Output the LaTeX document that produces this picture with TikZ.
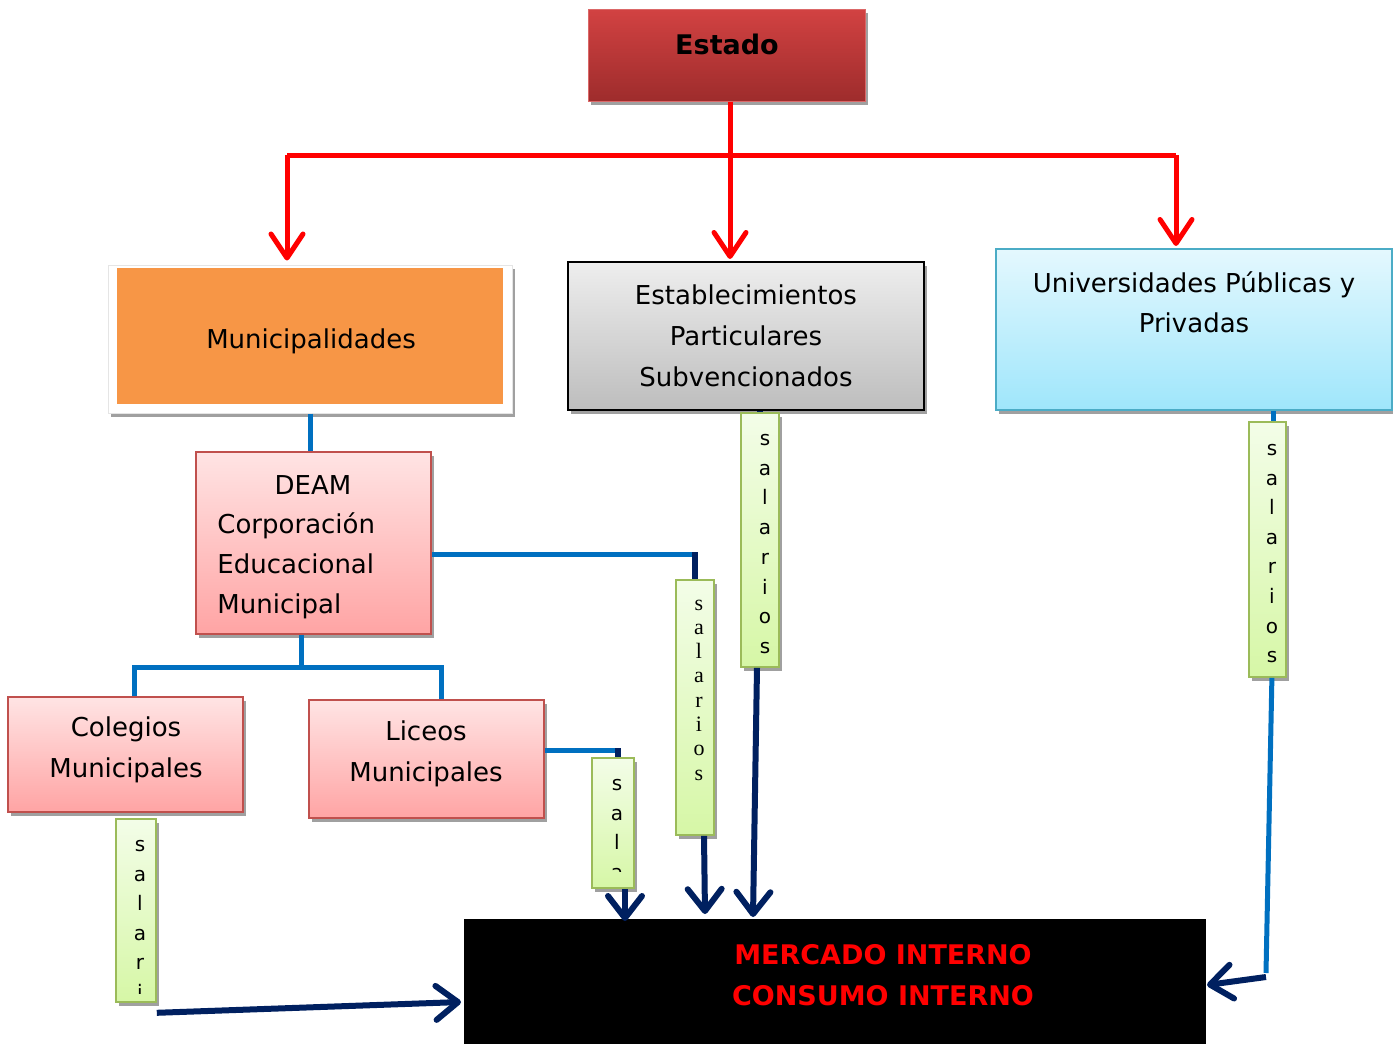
\documentclass[tikz,border=0pt]{standalone}
\usepackage{fontspec}
\setmainfont{DejaVu Sans}
\newfontfamily\serifT{Liberation Serif}
\usetikzlibrary{arrows.meta,shadows}
\definecolor{redc}{HTML}{FF0000}
\definecolor{bluec}{HTML}{0070C0}
\definecolor{navyc}{HTML}{002060}
\definecolor{shadowgray}{HTML}{A0A0A0}
\definecolor{estT}{HTML}{D24242}
\definecolor{estB}{HTML}{9E2C2C}
\definecolor{orangec}{HTML}{F79646}
\definecolor{grayT}{HTML}{EEEEEE}
\definecolor{grayB}{HTML}{BDBDBD}
\definecolor{cyanT}{HTML}{E4F8FE}
\definecolor{cyanB}{HTML}{9FE6FB}
\definecolor{cyanD}{HTML}{4BACC6}
\definecolor{pinkT}{HTML}{FFE4E4}
\definecolor{pinkB}{HTML}{FFA4A4}
\definecolor{pinkD}{HTML}{C0504D}
\definecolor{greenT}{HTML}{F3FDE8}
\definecolor{greenB}{HTML}{D6F7A6}
\definecolor{greenD}{HTML}{9BBB59}
\newcommand{\bodyfont}{\fontsize{13}{20.5}\selectfont}
\tikzset{
  box/.style={rectangle, inner sep=0pt, font=\bodyfont, align=center},
  shad/.style={drop shadow={shadow xshift=1.5pt, shadow yshift=-2pt, fill=shadowgray, opacity=1}},
  pinkbox/.style={box, shad, top color=pinkT, bottom color=pinkB, draw=pinkD, line width=0.8pt, minimum width=117.5pt},
  salbox/.style={rectangle, shad, top color=greenT, bottom color=greenB, draw=greenD, line width=0.8pt, inner sep=0pt},
  saltxt/.style={anchor=base, inner sep=0pt, font=\fontsize{10}{12}\selectfont},
  serftxt/.style={anchor=base, inner sep=0pt, font=\serifT\fontsize{11}{12}\selectfont},
  txt/.style={inner sep=0pt, font=\bodyfont, align=center},
  redline/.style={draw=redc, line width=2.5pt},
  redarrow/.style={redline, -{Straight Barb[length=12pt,width=16pt,line cap=round,line join=round]}},
  blueline/.style={draw=bluec, line width=2.5pt},
  navyline/.style={draw=navyc, line width=3pt},
  navyarrow/.style={navyline, -{Straight Barb[length=11pt,width=17pt,line cap=round,line join=round]}},
}
\begin{document}
\begin{tikzpicture}[x=0.5pt,y=-0.5pt]
\useasboundingbox (0,0) rectangle (1393,1044);

% ---------- boxes ----------
\node[box, shad, top color=estT, bottom color=estB, draw=estT!80!white, line width=0.5pt,
      minimum width=138.5pt, minimum height=46pt] (estado) at (726.5,55) {};
\node[txt, font=\bfseries\fontsize{13.5}{16}\selectfont] (estadoT) at (727,44) {Estado};

\node[box, shad, fill=white, draw=black!10, line width=0.5pt,
      minimum width=202pt, minimum height=74pt] (muniF) at (310,339) {};
\node[box, fill=orangec, minimum width=193pt, minimum height=68pt] (muni) at (310,336) {};
\node[txt] (muniT) at (311,341) {Municipalidades};

\node[box, shad, top color=grayT, bottom color=grayB, draw=black, line width=1pt,
      minimum width=178pt, minimum height=74pt] (estab) at (746,336)
      {Establecimientos\\Particulares\\Subvencionados};

\node[box, shad, top color=cyanT, bottom color=cyanB, draw=cyanD, line width=1pt,
      minimum width=198pt, minimum height=80.5pt] (univ) at (1194,329.5) {};
\node[txt, font=\fontsize{13}{20}\selectfont] (univT) at (1194,302) {Universidades Públicas y\\Privadas};

\node[pinkbox, minimum height=91pt] (deam) at (313.5,543) {};
\node[txt] (deamT1) at (313,485) {DEAM};
\node[txt, anchor=west, align=left, font=\fontsize{13}{20}\selectfont] (deamT2) at (217,566)
      {Corporación\\Educacional\\Municipal};

\node[pinkbox, minimum height=57.5pt] (col) at (125.5,754.5) {};
\node[txt] (colT) at (126,750) {Colegios\\Municipales};

\node[pinkbox, minimum height=59pt] (lic) at (426.5,759) {};
\node[txt] (licT) at (426,753.5) {Liceos\\Municipales};

\node[box, fill=black, minimum width=371pt, minimum height=62.5pt] (merc) at (835,981.5) {};
\node[txt, text=redc, font=\bfseries\fontsize{13.5}{20.5}\selectfont] (mercT) at (883,975.5)
      {MERCADO INTERNO\\CONSUMO INTERNO};

% ---------- salarios boxes ----------
\node[salbox, minimum width=19pt, minimum height=127pt] (estsal) at (760,540) {};
\foreach \c [count=\i] in {s,a,l,a,r,i,o,s}
  \node[saltxt] (sA\i) at (765,{445.5+29.7*(\i-1)}) {\c};

\node[salbox, minimum width=19pt, minimum height=127.5pt] (deamsal) at (695,707.5) {};
\foreach \c [count=\i] in {s,a,l,a,r,i,o,s}
  \node[serftxt] (sB\i) at (699,{610+24.3*(\i-1)}) {\c};

\node[salbox, minimum width=21pt, minimum height=65pt] (licsal) at (613,823) {};
\begin{scope}
  \clip ([yshift=8.5pt]licsal.south west) rectangle (licsal.north east);
  \foreach \c [count=\i] in {s,a,l,a}
    \node[saltxt] (sC\i) at (617,{790.5+29.5*(\i-1)}) {\c};
\end{scope}

\node[salbox, minimum width=20pt, minimum height=91.5pt] (colsal) at (136,910.5) {};
\begin{scope}
  \clip ([yshift=4.5pt]colsal.south west) rectangle (colsal.north east);
  \foreach \c [count=\i] in {s,a,l,a,r,i}
    \node[saltxt] (sD\i) at (140,{851.5+29.5*(\i-1)}) {\c};
\end{scope}

\node[salbox, minimum width=18.5pt, minimum height=127.5pt] (unisal) at (1267.5,549.5) {};
\foreach \c [count=\i] in {s,a,l,a,r,i,o,s}
  \node[saltxt] (sE\i) at (1272,{455.5+29.6*(\i-1)}) {\c};

% ---------- red connectors ----------
\coordinate (rl) at (287,155);
\coordinate (rj) at (730,155);
\coordinate (rr) at (1176,155);
\draw[redline] (rl) -- (rr);
\draw[redarrow] (estado.south -| rj) -- ([yshift=1pt]estab.north -| rj);
\draw[redarrow] (rl) -- ([yshift=2pt]muniF.north -| rl);
\draw[redarrow] (rr) -- ([yshift=1pt]univ.north -| rr);

% ---------- blue connectors ----------
\draw[blueline] (muniF.south) -- (deam.north -| muniF.south);
\coordinate (dj) at (301,667);
\coordinate (cj) at (134,667);
\coordinate (lj) at (441,667);
\draw[blueline] (deam.south -| dj) -- (dj);
\draw[blueline] (cj |- col.north) -- (cj) -- (lj) -- (lj |- lic.north);
\coordinate (dr) at (695,554);
\draw[blueline] (deam.east |- dr) -- ([xshift=1.2pt]dr);
\draw[navyline] ([yshift=1pt]dr) -- (dr |- deamsal.north);
\coordinate (lr) at (618,750);
\draw[blueline] (lic.east |- lr) -- ([xshift=1.2pt]lr);
\draw[navyline] ([yshift=1pt]lr) -- (lr |- licsal.north);
\draw[navyline] (estab.south -| estsal.north) -- (estsal.north);
\draw[blueline] (univ.south -| 1273,0) -- (unisal.north -| 1273,0);

% ---------- arrows to the market ----------
\coordinate (a1) at (753,917);
\coordinate (a2) at (705,914);
\coordinate (a3) at (625,921);
\coordinate (a4) at (461,1002);
\coordinate (u1) at (1266,973);
\coordinate (a5) at (1207,985);
\draw[navyarrow] ([xshift=-1.5pt]estsal.south) -- (a1);
\draw[navyarrow] ([xshift=4.5pt]deamsal.south) -- (a2);
\draw[navyarrow] ([xshift=6pt]licsal.south) -- (a3);
\draw[navyarrow] ([yshift=-5pt]colsal.south east) -- (a4);
\draw[blueline] ([xshift=2.2pt]unisal.south) -- (u1);
\draw[navyarrow] ([yshift=-2pt]u1) -- (a5);
\end{tikzpicture}
\end{document}
